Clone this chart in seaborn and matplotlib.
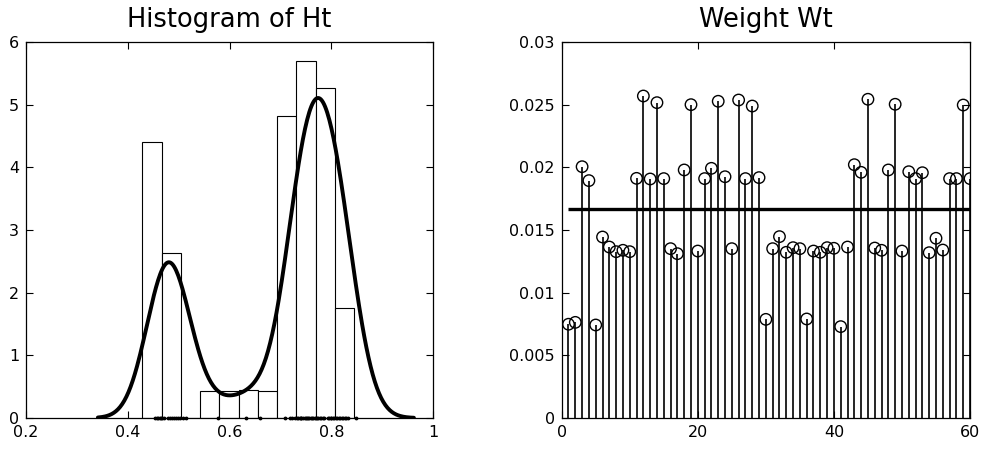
import numpy as np
import matplotlib
matplotlib.use("Agg")
import matplotlib.pyplot as plt
import seaborn as sns

sns.set_theme(style="ticks")
plt.rcParams.update({
    'font.family': ['DejaVu Sans'],
    'font.size': 11.5,
    'axes.titlesize': 18.5,
    'xtick.labelsize': 11.5,
    'ytick.labelsize': 11.5,
    'axes.edgecolor': 'black',
    'axes.linewidth': 0.9,
    'xtick.color': 'black',
    'ytick.color': 'black',
    'text.color': 'black',
})

# histogram of Ht (bin edges and counts, 60 samples)
hist_edges = [0.4285, 0.4664, 0.5044, 0.5417, 0.5797, 0.6177,
              0.6550, 0.6930, 0.7310, 0.7690, 0.8070, 0.8450]
hist_counts = [10, 6, 0, 1, 1, 1, 1, 11, 13, 12, 4]

# Ht samples (rug marks along the axis)
ht = [0.454, 0.457, 0.460, 0.463, 0.466, 0.468, 0.471, 0.478,
      0.482, 0.486, 0.490, 0.494, 0.499, 0.503, 0.508, 0.514,
      0.5765, 0.633, 0.660,
      0.709, 0.718, 0.722, 0.728, 0.732, 0.735, 0.738, 0.740, 0.741,
      0.744, 0.747, 0.750, 0.752, 0.753, 0.756, 0.759, 0.762, 0.764,
      0.768, 0.770, 0.771, 0.774, 0.777, 0.780, 0.783, 0.786, 0.793,
      0.796, 0.799, 0.800, 0.802, 0.805, 0.808, 0.811, 0.814, 0.817,
      0.820, 0.823, 0.826, 0.829, 0.832, 0.849]

# weights Wt
wt_index = list(range(1, 61))
wt = [0.00748, 0.00763, 0.02005, 0.01894, 0.00742, 0.01444, 0.01364, 0.01327, 0.01338, 0.01327,
      0.01912, 0.02569, 0.01907, 0.02516, 0.01910, 0.01351, 0.01311, 0.01979, 0.02500, 0.01332,
      0.01910, 0.01992, 0.02527, 0.01925, 0.01351, 0.02537, 0.01910, 0.02489, 0.01918, 0.00787,
      0.01351, 0.01447, 0.01322, 0.01359, 0.01351, 0.00790, 0.01332, 0.01322, 0.01359, 0.01354,
      0.00729, 0.01364, 0.02021, 0.01960, 0.02543, 0.01356, 0.01338, 0.01979, 0.02503, 0.01332,
      0.01965, 0.01910, 0.01957, 0.01319, 0.01434, 0.01340, 0.01910, 0.01910, 0.02497, 0.01910]
wt_mean = 1 / 60

fig = plt.figure(figsize=(9.83, 4.51), dpi=100)
ax1 = fig.add_axes([0.0265, 0.0732, 0.4143, 0.8337])
ax2 = fig.add_axes([0.5714, 0.0732, 0.4154, 0.8337])

# left panel
centers = [(a + b) / 2 for a, b in zip(hist_edges[:-1], hist_edges[1:])]
sns.histplot(x=centers, weights=hist_counts, bins=hist_edges, stat="density",
             color="white", edgecolor="black", linewidth=0.8, alpha=1, ax=ax1)
sns.kdeplot(x=ht, bw_method=0.28, cut=3, gridsize=300, color="black", linewidth=2.8, ax=ax1)
ax1.plot(ht, np.zeros(len(ht)), ".", color="black", markersize=3.5, clip_on=False, zorder=5)
ax1.set_xlim(0.2, 1)
ax1.set_ylim(0, 6)
ax1.set_xticks([0.2, 0.4, 0.6, 0.8, 1.0])
ax1.set_xticklabels(["0.2", "0.4", "0.6", "0.8", "1"])
ax1.set_yticks(range(0, 7))
ax1.set_title("Histogram of Ht", pad=10.5)

# right panel
ax2.vlines(wt_index, 0, wt, color="black", linewidth=1.2)
sns.scatterplot(x=wt_index, y=wt, marker="o", s=68, facecolors="none",
                edgecolors="black", linewidth=1.0, ax=ax2, zorder=3)
ax2.hlines(wt_mean, wt_index[0], wt_index[-1], color="black", linewidth=2.4, zorder=4)
ax2.set_xlim(0, 60)
ax2.set_ylim(0, 0.03)
ax2.set_xticks([0, 20, 40, 60])
ax2.set_yticks([0, 0.005, 0.01, 0.015, 0.02, 0.025, 0.03])
ax2.set_yticklabels(["0", "0.005", "0.01", "0.015", "0.02", "0.025", "0.03"])
ax2.set_title("Weight Wt", pad=10.5)

for ax in (ax1, ax2):
    ax.set_xlabel("")
    ax.set_ylabel("")
    ax.tick_params(direction="in", length=5, width=0.8, top=True, right=True, pad=5)
    for sp in ax.spines.values():
        sp.set_visible(True)
        sp.set_color("black")

fig.savefig("out.png", dpi=100)
